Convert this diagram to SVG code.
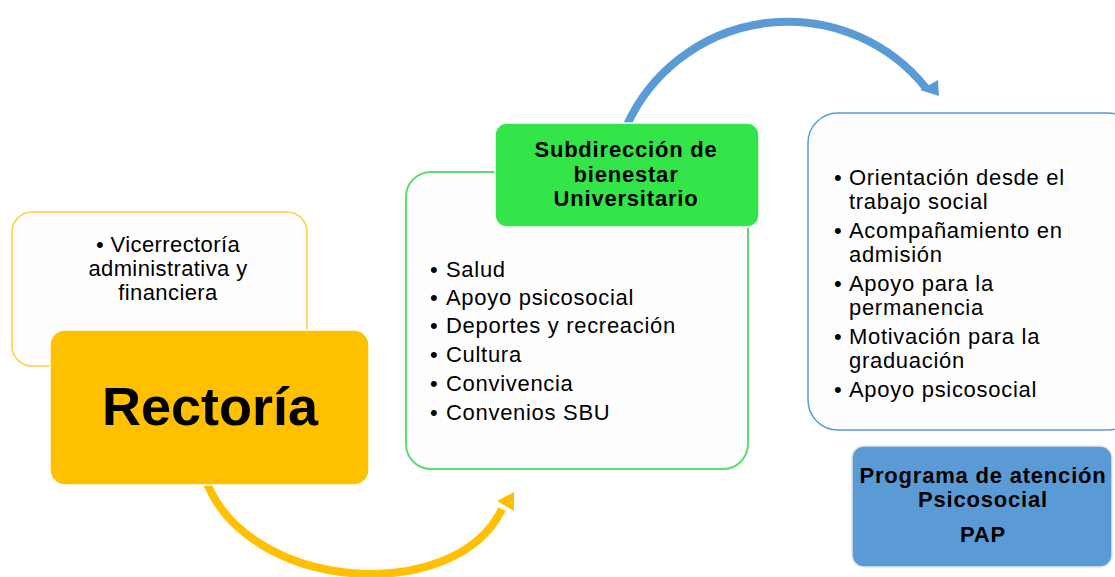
<svg xmlns="http://www.w3.org/2000/svg" width="1115" height="577" viewBox="0 0 1115 577">
  <defs>
    <style>
      .t { font-family: "Liberation Sans", Arial, sans-serif; font-size: 22px; fill: #000; letter-spacing: 0.7px; }
      .b { font-family: "Liberation Sans", Arial, sans-serif; font-size: 22px; font-weight: bold; fill: #000; letter-spacing: 0.8px; }
      .c { text-anchor: middle; }
      .arcY { fill: none; stroke: #FFC000; stroke-width: 8; }
      .arcB { fill: none; stroke: #5B9BD5; stroke-width: 8; }
    </style>
  </defs>
  <rect width="1115" height="577" fill="#ffffff"/>

  <g id="connectors">
    <path class="arcY" d="M 205 478 C 245 592, 455 607, 502 509"/>
    <polygon points="514,492 497,501 514,511" fill="#FFC000"/>
    <path class="arcB" d="M 627 125 A 177 177 0 0 1 926 88"/>
    <polygon points="938,80 920,90 939,96" fill="#5B9BD5"/>
  </g>

  <g id="vicerrectoria">
    <rect x="12" y="212" width="295" height="154" rx="20" fill="#FEFEFE" stroke="#FFCF40" stroke-width="1.5"/>
    <text class="t c" x="168" y="252" style="letter-spacing:0.4px">• Vicerrectoría</text>
    <text class="t c" x="168" y="276" style="letter-spacing:0.4px">administrativa y</text>
    <text class="t c" x="168" y="300" style="letter-spacing:0.4px">financiera</text>
  </g>

  <g id="rectoria">
    <rect x="50" y="330" width="319" height="155" rx="15" fill="#FFC000" stroke="#ffffff" stroke-width="1.5"/>
    <text class="b c" x="210" y="425" style="font-size:54px;letter-spacing:0">Rectoría</text>
  </g>

  <g id="sbu-list">
    <rect x="406" y="172" width="342" height="297" rx="25" fill="#FEFEFE" stroke="#5EDD6C" stroke-width="2"/>
    <text class="t" x="430" y="277">•<tspan x="446">Salud</tspan></text>
    <text class="t" x="430" y="305">•<tspan x="446">Apoyo psicosocial</tspan></text>
    <text class="t" x="430" y="333">•<tspan x="446">Deportes y recreación</tspan></text>
    <text class="t" x="430" y="362">•<tspan x="446">Cultura</tspan></text>
    <text class="t" x="430" y="391">•<tspan x="446">Convivencia</tspan></text>
    <text class="t" x="430" y="420">•<tspan x="446">Convenios SBU</tspan></text>
  </g>

  <g id="sbu">
    <rect x="495" y="123" width="264" height="104" rx="12" fill="#33E549" stroke="#ffffff" stroke-width="1.5"/>
    <text class="b c" x="626" y="157">Subdirección de</text>
    <text class="b c" x="626" y="182">bienestar</text>
    <text class="b c" x="626" y="206">Universitario</text>
  </g>

  <g id="pap-list">
    <rect x="808" y="113" width="330" height="317" rx="30" fill="#FEFEFE" stroke="#5B9BD5" stroke-width="1.5"/>
    <text class="t" x="834" y="185">•<tspan x="849">Orientación desde el</tspan></text>
    <text class="t" x="849" y="209">trabajo social</text>
    <text class="t" x="834" y="238">•<tspan x="849">Acompañamiento en</tspan></text>
    <text class="t" x="849" y="262">admisión</text>
    <text class="t" x="834" y="291">•<tspan x="849">Apoyo para la</tspan></text>
    <text class="t" x="849" y="315">permanencia</text>
    <text class="t" x="834" y="344">•<tspan x="849">Motivación para la</tspan></text>
    <text class="t" x="849" y="368">graduación</text>
    <text class="t" x="834" y="397">•<tspan x="849">Apoyo psicosocial</tspan></text>
  </g>

  <g id="pap">
    <rect x="852" y="446" width="260" height="121" rx="12" fill="#5B9BD5" stroke="#E6E6E6" stroke-width="1.5"/>
    <text class="b c" x="983" y="483">Programa de atención</text>
    <text class="b c" x="983" y="507">Psicosocial</text>
    <text class="b c" x="983" y="542">PAP</text>
  </g>
</svg>
